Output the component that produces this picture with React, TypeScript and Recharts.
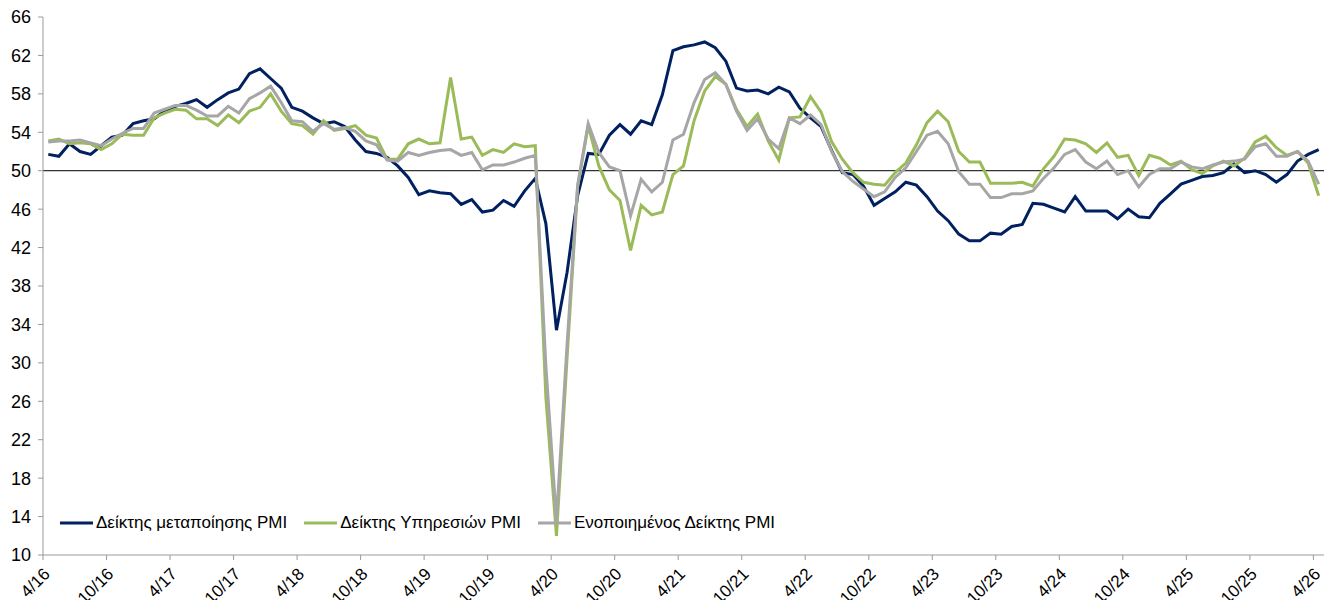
import React from "react";
import {
  LineChart,
  Line,
  XAxis,
  YAxis,
  ReferenceLine,
  Legend,
} from "recharts";

// monthly PMI readings, 4/16 .. 4/26
const manufacturing = [
  51.7, 51.5, 52.8, 52.0, 51.7, 52.6, 53.5, 53.7, 54.9,
  55.2, 55.4, 56.2, 56.7, 57.0, 57.4, 56.6, 57.4, 58.1, 58.5, 60.1, 60.6,
  59.6, 58.6, 56.6, 56.2, 55.5, 54.9, 55.1, 54.6, 53.2, 52.0, 51.8, 51.4,
  50.5, 49.3, 47.5, 47.9, 47.7, 47.6, 46.5, 47.0, 45.7, 45.9, 46.9, 46.3,
  47.9, 49.2, 44.5, 33.4, 39.4, 47.4, 51.8, 51.7, 53.7, 54.8, 53.8, 55.2,
  54.8, 57.9, 62.5, 62.9, 63.1, 63.4, 62.8, 61.4, 58.6, 58.3, 58.4, 58.0,
  58.7, 58.2, 56.5, 55.5, 54.6, 52.1, 49.8, 49.6, 48.4, 46.4, 47.1, 47.8,
  48.8, 48.5, 47.3, 45.8, 44.8, 43.4, 42.7, 42.7, 43.5, 43.4, 44.2, 44.4,
  46.6, 46.5, 46.1, 45.7, 47.3, 45.8, 45.8, 45.8, 45.0, 46.0, 45.2, 45.1,
  46.6, 47.6, 48.6, 49.0, 49.4, 49.5, 49.8, 50.7, 49.8, 50.0, 49.6, 48.8,
  49.6, 51.0, 51.7, 52.2,
];

const services = [
  53.1, 53.3, 52.8, 52.9, 52.8, 52.2, 52.8, 53.8, 53.7,
  53.7, 55.5, 56.0, 56.4, 56.3, 55.4, 55.4, 54.7, 55.8, 55.0, 56.2, 56.6,
  58.0, 56.2, 54.9, 54.7, 53.8, 55.2, 54.2, 54.4, 54.7, 53.7, 53.4, 51.2,
  51.2, 52.8, 53.3, 52.8, 52.9, 59.7, 53.3, 53.5, 51.6, 52.2, 51.9, 52.8,
  52.5, 52.6, 26.4, 12.0, 30.5, 48.3, 54.7, 50.5, 48.0, 46.9, 41.7, 46.4,
  45.4, 45.7, 49.6, 50.5, 55.2, 58.3, 59.8, 59.0, 56.4, 54.6, 55.9, 53.1,
  51.1, 55.5, 55.6, 57.7, 56.1, 53.0, 51.2, 49.8, 48.8, 48.6, 48.5, 49.8,
  50.8, 52.7, 55.0, 56.2, 55.1, 52.0, 50.9, 50.9, 48.7, 48.7, 48.7, 48.8,
  48.4, 50.2, 51.5, 53.3, 53.2, 52.8, 51.9, 52.9, 51.4, 51.6, 49.5, 51.6,
  51.3, 50.6, 51.0, 50.1, 49.7, 50.5, 51.0, 50.5, 51.3, 53.0, 53.6, 52.4,
  51.6, 52.0, 50.8, 47.4,
];

const composite = [
  53.0, 53.1, 53.1, 53.2, 52.9, 52.6, 53.3, 53.9, 54.4,
  54.4, 56.0, 56.4, 56.8, 56.8, 56.3, 55.7, 55.7, 56.7, 56.0, 57.5, 58.1,
  58.8, 57.1, 55.2, 55.1, 54.1, 54.9, 54.3, 54.5, 54.1, 53.1, 52.7, 51.1,
  51.0, 51.9, 51.6, 51.9, 52.1, 52.2, 51.6, 51.9, 50.1, 50.6, 50.6, 50.9,
  51.3, 51.6, 29.7, 13.6, 31.9, 48.5, 54.9, 51.9, 50.4, 50.0, 45.3, 49.1,
  47.8, 48.8, 53.2, 53.8, 57.1, 59.5, 60.2, 59.0, 56.2, 54.2, 55.4, 53.3,
  52.3, 55.5, 54.9, 55.8, 54.8, 52.0, 49.9, 48.9, 48.1, 47.3, 47.8, 49.3,
  50.3, 52.0, 53.7, 54.1, 52.8, 49.9, 48.6, 48.6, 47.2, 47.2, 47.6, 47.6,
  47.9, 49.2, 50.3, 51.7, 52.2, 50.9, 50.2, 51.0, 49.6, 50.0, 48.3, 49.6,
  50.2, 50.2, 50.9, 50.4, 50.2, 50.6, 50.9, 51.0, 51.2, 52.5, 52.8, 51.5,
  51.5, 52.0, 51.0, 48.6,
];

const tickLabels = [
  "4/16", "10/16", "4/17", "10/17", "4/18", "10/18", "4/19", "10/19",
  "4/20", "10/20", "4/21", "10/21", "4/22", "10/22", "4/23", "10/23",
  "4/24", "10/24", "4/25", "10/25", "4/26",
];

const yTicks = [10, 14, 18, 22, 26, 30, 34, 38, 42, 46, 50, 54, 58, 62, 66];

const series = [
  { key: "m", name: "Δείκτης μεταποίησης PMI", color: "#002060" },
  { key: "s", name: "Δείκτης Υπηρεσιών PMI", color: "#9BBB59" },
  { key: "c", name: "Ενοποιημένος Δείκτης PMI", color: "#A6A6A6" },
];

// months sit between the half-year tick marks
const data = manufacturing.map((m, i) => ({
  x: i + 0.5,
  m,
  s: services[i],
  c: composite[i],
}));
const xTicks = tickLabels.map((_, i) => i * 6);

const FONT = "'Liberation Sans', Arial, sans-serif";
const AXIS = "#9a9a9a";

const XTick = (props: any) => {
  const { x, y, payload } = props;
  const ax = x + 8;
  const ay = y + 13;
  return (
    <text
      x={ax}
      y={ay}
      transform={`rotate(-45, ${ax}, ${ay})`}
      textAnchor="end"
      fill="#000"
      fontSize={17}
      fontFamily={FONT}
    >
      {tickLabels[Math.round(payload.value / 6)]}
    </text>
  );
};

// legend in series order (recharts sorts the payload by name otherwise)
const renderLegend = () => (
  <div style={{ display: "flex", alignItems: "center", fontFamily: FONT, fontSize: 17, color: "#000" }}>
    {series.map((s) => (
      <div key={s.key} style={{ display: "flex", alignItems: "center", marginRight: 17, whiteSpace: "nowrap" }}>
        <svg width={33} height={4} style={{ marginRight: 3 }}>
          <line x1={0} y1={2} x2={33} y2={2} stroke={s.color} strokeWidth={3} />
        </svg>
        <span>{s.name}</span>
      </div>
    ))}
  </div>
);

export default function App() {
  return (
    <div style={{ position: "absolute", left: 0, top: 0, width: 1326, height: 600, background: "#fff" }}>
      <LineChart
        width={1326}
        height={600}
        data={data}
        margin={{ top: 17, right: 2, left: 0, bottom: 0 }}
      >
        <XAxis
          dataKey="x"
          type="number"
          domain={[0, 121]}
          ticks={xTicks}
          interval={0}
          height={45}
          tickSize={5}
          tick={<XTick />}
          axisLine={{ stroke: AXIS }}
          tickLine={{ stroke: AXIS }}
          allowDataOverflow
        />
        <YAxis
          type="number"
          domain={[10, 66]}
          ticks={yTicks}
          interval={0}
          width={43}
          tickSize={5}
          tickMargin={7}
          tick={{ fill: "#000", fontSize: 18, fontFamily: FONT }}
          axisLine={{ stroke: AXIS }}
          tickLine={{ stroke: AXIS }}
        />
        <ReferenceLine y={50} stroke="#000" strokeWidth={1} />
        <Legend
          layout="horizontal"
          verticalAlign="middle"
          align="center"
          content={renderLegend}
          wrapperStyle={{ left: 60, top: 513, width: "auto" }}
        />
        {series.map((s) => (
          <Line
            key={s.key}
            dataKey={s.key}
            name={s.name}
            stroke={s.color}
            strokeWidth={3}
            dot={false}
            isAnimationActive={false}
          />
        ))}
      </LineChart>
    </div>
  );
}
